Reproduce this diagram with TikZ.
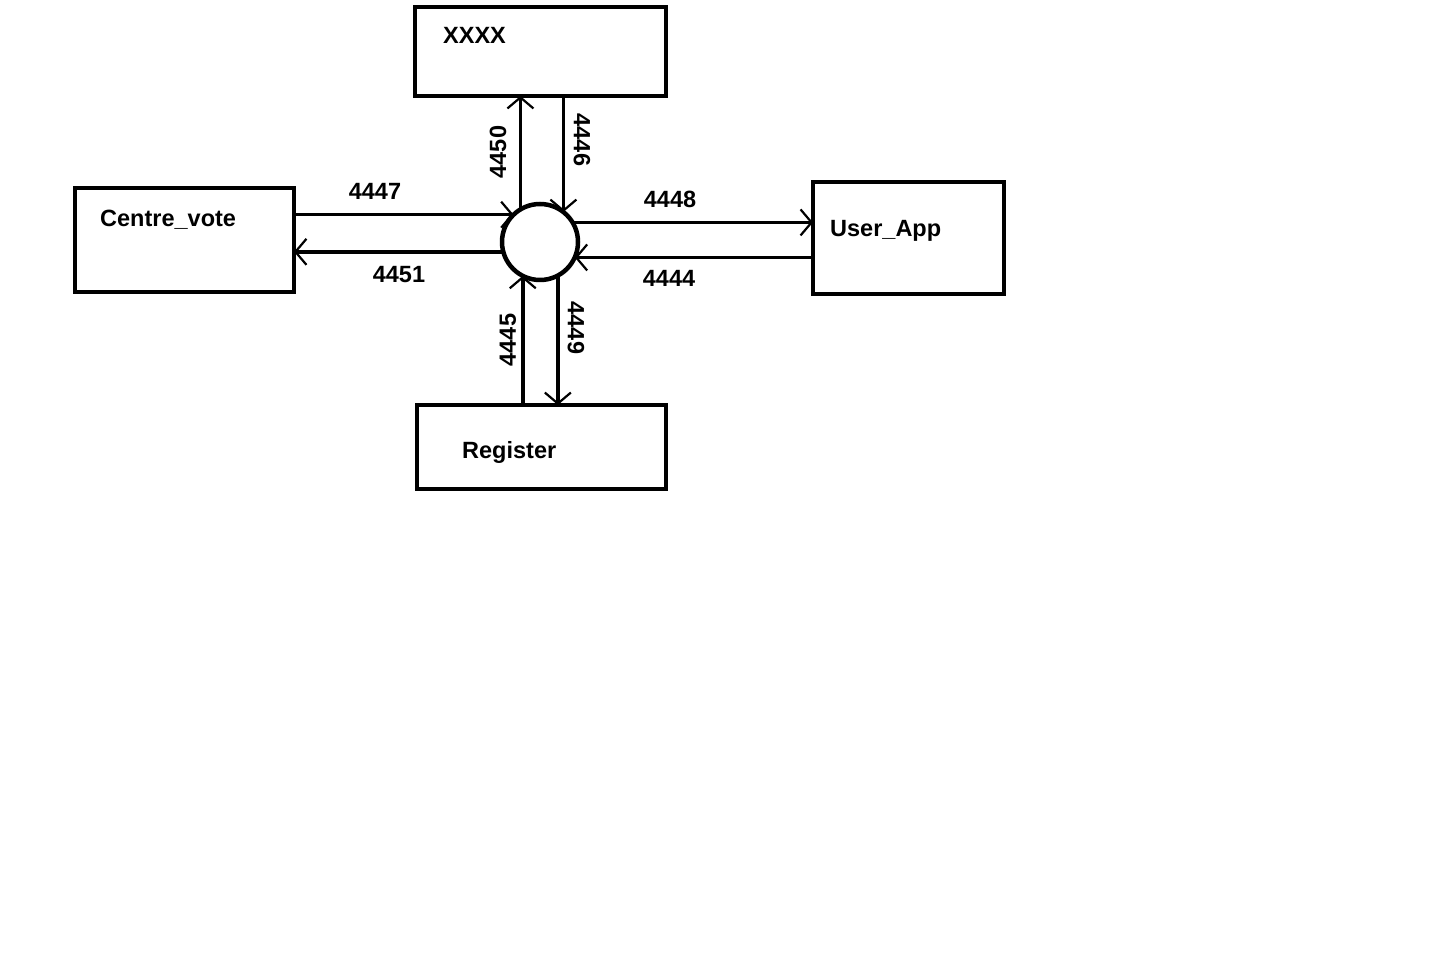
\documentclass[tikz,border=0pt]{standalone}
\usepackage{fontspec}
\setmainfont{Liberation Sans}
\usetikzlibrary{arrows.meta}
\begin{document}
\begin{tikzpicture}[x=1pt,y=1pt,
  box/.style={draw,line width=4.5pt,inner sep=0pt,outer sep=0pt},
  hub/.style={draw,circle,line width=4.5pt,minimum size=76pt,inner sep=0pt,outer sep=0pt},
  lbl/.style={inner sep=0pt,font=\fontsize{23.5}{28}\selectfont\bfseries},
  flow/.style={line width=3.5pt,-{Straight Barb[length=11pt,width=26pt,line width=2.2pt]}}]
\fill[white] (0,0) rectangle (1450,962);
\useasboundingbox (0,0) rectangle (1450,962);

% entities
\node[box,minimum width=251pt,minimum height=89pt] (xx) at (540.5,910.5) {};
\node[box,minimum width=219pt,minimum height=104pt] (cv) at (184.5,722) {};
\node[box,minimum width=191pt,minimum height=112pt] (ua) at (908.5,724) {};
\node[box,minimum width=249pt,minimum height=84pt] (rg) at (541.5,515) {};
\node[hub] (hub) at (540,720) {};

\node[lbl,anchor=base west] (txx) at (443,918.6) {XXXX};
\node[lbl,anchor=base west] (tcv) at (100,735) {Centre\_vote};
\node[lbl,anchor=base west] (tua) at (830,725) {User\_App};
\node[lbl,anchor=base west] (trg) at (462,503) {Register};

% horizontal flows
\draw[flow] (cv.east |- hub.134.7) -- (hub.134.7);
\draw[flow] (hub.195.3) -- (cv.east |- hub.195.3);
\draw[flow] (hub.31.8) -- (ua.west |- hub.31.8);
\draw[flow] (ua.west |- hub.-24.9) -- (hub.-24.9);

% vertical flows
\draw[flow] (hub.121.8) -- (hub.121.8 |- xx.south);
\draw[flow] (hub.52.8 |- xx.south) -- (hub.52.8);
\draw[flow] (hub.243.4 |- rg.north) -- (hub.243.4);
\draw[flow] (hub.298.3) -- (hub.298.3 |- rg.north);

% port numbers
\node[lbl] (p4447) at (375,771) {4447};
\node[lbl] (p4451) at (399,687) {4451};
\node[lbl] (p4448) at (670,763) {4448};
\node[lbl] (p4444) at (669,684) {4444};
\node[lbl,rotate=90] (p4450) at (498,810) {4450};
\node[lbl,rotate=-90] (p4446) at (582,822) {4446};
\node[lbl,rotate=90] (p4445) at (508,622) {4445};
\node[lbl,rotate=-90] (p4449) at (576,634) {4449};
\end{tikzpicture}
\end{document}
